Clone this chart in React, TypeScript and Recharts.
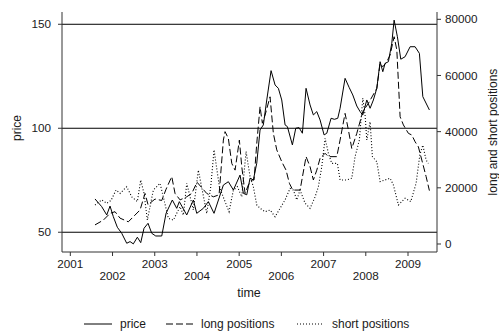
import React from 'react';
import { LineChart, Line, XAxis, YAxis, ReferenceLine } from 'recharts';

const FONT = '"Liberation Sans", Arial, Helvetica, sans-serif';

// x-axis tick labels (years)
const yearTicks = [2001, 2002, 2003, 2004, 2005, 2006, 2007, 2008, 2009];
const priceTicks = [50, 100, 150];
const positionTicks = [0, 20000, 40000, 60000, 80000];

// price series (decimal year, price)
const priceTime = [
  2001.585, 2001.744, 2001.863, 2001.941, 2002.019, 2002.114, 2002.218, 2002.336, 2002.415, 2002.493,
  2002.588, 2002.668, 2002.746, 2002.841, 2002.929, 2003.024, 2003.166, 2003.268, 2003.417, 2003.521,
  2003.583, 2003.758, 2003.915, 2003.995, 2004.152, 2004.270, 2004.405, 2004.626, 2004.744, 2004.863,
  2005.021, 2005.100, 2005.180, 2005.258, 2005.336, 2005.417, 2005.495, 2005.573, 2005.654, 2005.756,
  2005.851, 2005.929, 2006.009, 2006.088, 2006.142, 2006.261, 2006.341, 2006.419, 2006.498, 2006.585,
  2006.680, 2006.758, 2006.839, 2006.917, 2007.012, 2007.076, 2007.178, 2007.256, 2007.336, 2007.391,
  2007.509, 2007.604, 2007.692, 2007.787, 2007.865, 2007.929, 2008.024, 2008.102, 2008.180, 2008.261,
  2008.339, 2008.403, 2008.457, 2008.536, 2008.616, 2008.671, 2008.749, 2008.829, 2008.931, 2009.050,
  2009.168, 2009.270, 2009.351, 2009.507,
];
const priceValues = [
  66, 62.3, 58.3, 62.6, 57.5, 52.4, 49.5, 44.7, 45.5, 44.4,
  47.6, 45, 51.9, 54.3, 49.5, 48.2, 48.2, 59.1, 65.5, 61.5,
  64.7, 58.3, 65.5, 59.1, 61.5, 64.7, 59.1, 72.7, 74.3, 70.3,
  77.5, 68.7, 68, 76, 75.1, 83.2, 99.2, 101.6, 113.6, 127.7,
  120.8, 119.2, 113.6, 101.6, 100.8, 92, 100, 100.3, 97.6, 119.2,
  111.2, 106.4, 108, 104, 96.8, 97.6, 104.8, 104.3, 104.8, 109.6,
  124, 119.7, 116, 110.7, 108, 106.4, 113.6, 109.6, 113.6, 119.2,
  132, 127.2, 131.2, 132, 140.9, 152, 144, 133.2, 134.4, 139.2,
  139.2, 136, 115.2, 108.8,
];

// long positions (decimal year, contracts)
const longTime = [
  2001.585, 2001.782, 2001.941, 2002.059, 2002.178, 2002.374, 2002.493, 2002.652, 2002.770, 2002.841,
  2003.007, 2003.166, 2003.268, 2003.403, 2003.481, 2003.600, 2003.758, 2003.877, 2004.002, 2004.232,
  2004.389, 2004.524, 2004.626, 2004.666, 2004.744, 2004.825, 2004.903, 2005.005, 2005.062, 2005.140,
  2005.218, 2005.299, 2005.353, 2005.417, 2005.495, 2005.550, 2005.614, 2005.732, 2005.810, 2005.891,
  2006.009, 2006.111, 2006.190, 2006.270, 2006.443, 2006.585, 2006.680, 2006.758, 2006.839, 2006.917,
  2007.036, 2007.114, 2007.313, 2007.391, 2007.509, 2007.588, 2007.668, 2007.787, 2007.929, 2008.062,
  2008.261, 2008.339, 2008.403, 2008.498, 2008.576, 2008.671, 2008.735, 2008.813, 2008.891, 2009.009,
  2009.090, 2009.168, 2009.246, 2009.327, 2009.429, 2009.507,
];
const longValues = [
  6800, 8500, 10900, 11500, 9200, 7900, 9700, 12100, 18000, 14000,
  16000, 15500, 19500, 24000, 18000, 15700, 16800, 18000, 22000, 18000,
  16800, 17500, 37000, 40000, 37600, 28700, 26300, 37000, 27500, 18000,
  21000, 22800, 22800, 35800, 48900, 43000, 45900, 52400, 39400, 33500,
  29300, 26300, 21600, 19200, 19200, 31100, 27500, 22800, 26300, 30500,
  32300, 31100, 31100, 37000, 46500, 40600, 34000, 39400, 47100, 50100,
  55400, 64300, 63100, 64900, 67300, 73800, 69100, 45300, 42400, 39400,
  38800, 36400, 34600, 29900, 24000, 19000,
];

// short positions (decimal year, contracts)
const shortTime = [
  2001.585, 2001.744, 2001.863, 2001.964, 2002.083, 2002.178, 2002.336, 2002.455, 2002.588, 2002.668,
  2002.746, 2002.825, 2002.967, 2003.126, 2003.220, 2003.322, 2003.441, 2003.600, 2003.678, 2003.758,
  2003.915, 2004.033, 2004.232, 2004.327, 2004.405, 2004.531, 2004.642, 2004.761, 2004.863, 2004.957,
  2005.062, 2005.164, 2005.258, 2005.336, 2005.417, 2005.495, 2005.614, 2005.732, 2005.851, 2005.969,
  2006.088, 2006.206, 2006.284, 2006.365, 2006.443, 2006.562, 2006.680, 2006.799, 2006.877, 2006.957,
  2007.036, 2007.114, 2007.194, 2007.327, 2007.391, 2007.550, 2007.668, 2007.746, 2007.848, 2007.929,
  2007.983, 2008.024, 2008.102, 2008.156, 2008.261, 2008.339, 2008.457, 2008.576, 2008.654, 2008.773,
  2008.931, 2009.066, 2009.192, 2009.280, 2009.351, 2009.429, 2009.483,
];
const shortValues = [
  13900, 15700, 14500, 15500, 19200, 18000, 20400, 16800, 15100, 22800,
  18000, 8500, 19200, 21600, 15700, 9150, 8500, 13300, 10300, 21600,
  12100, 26300, 10900, 20400, 33500, 20400, 16000, 11500, 19200, 20400,
  16800, 32900, 24000, 20400, 13900, 12700, 11500, 12100, 9700, 12700,
  15700, 19800, 19200, 15700, 19200, 14500, 12700, 16800, 20400, 27500,
  37600, 32300, 28700, 28700, 22800, 22800, 23400, 31100, 37000, 51900,
  45900, 37000, 43500, 31100, 29300, 22200, 22800, 23400, 21000, 13900,
  16300, 15100, 21600, 31700, 35200, 29900, 28700,
];

const priceData = priceTime.map((t, i) => ({ t, v: priceValues[i] }));
const longData = longTime.map((t, i) => ({ t, v: longValues[i] }));
const shortData = shortTime.map((t, i) => ({ t, v: shortValues[i] }));

const TEXT = '#1a1a1a';
const AXIS = '#333';

const YearTick = (props: any) => {
  const { x, y, payload } = props;
  const odd = payload.value % 2 === 1;
  return (
    <text x={x} y={y + (odd ? 12 : 24)} textAnchor="middle" fill={TEXT} fontSize={11.7} fontFamily={FONT}>
      {payload.value}
    </text>
  );
};

export default function App() {
  return (
    <div style={{ position: 'absolute', left: 0, top: 0, width: 499, height: 331, background: '#fff' }}>
      <LineChart width={499} height={331} margin={{ top: 12, right: 0, bottom: 0, left: 0 }}>
        <XAxis
          dataKey="t"
          type="number"
          domain={[2000.803, 2009.687]}
          allowDataOverflow
          ticks={yearTicks}
          tick={<YearTick />}
          tickSize={4}
          tickMargin={0}
          height={79}
          stroke={AXIS}
          tickLine={{ stroke: AXIS }}
        />
        <YAxis
          yAxisId="left"
          orientation="left"
          type="number"
          domain={[40.5, 155.9]}
          allowDataOverflow
          ticks={priceTicks}
          width={62}
          tickSize={4}
          tickMargin={7}
          stroke={AXIS}
          tick={{ fill: TEXT, fontSize: 11.7, fontFamily: FONT }}
        />
        <YAxis
          yAxisId="right"
          orientation="right"
          type="number"
          domain={[-2850, 82600]}
          allowDataOverflow
          ticks={positionTicks}
          width={62}
          tickSize={4}
          tickMargin={4}
          stroke={AXIS}
          tick={{ fill: TEXT, fontSize: 11.7, fontFamily: FONT }}
        />
        {priceTicks.map((p) => (
          <ReferenceLine key={p} yAxisId="left" y={p} stroke="#000" strokeWidth={1} />
        ))}
        <Line yAxisId="left" data={priceData} dataKey="v" type="linear" stroke="#000" strokeWidth={1} dot={false} isAnimationActive={false} />
        <Line yAxisId="right" data={longData} dataKey="v" type="linear" stroke="#000" strokeWidth={1} strokeDasharray="7 3" dot={false} isAnimationActive={false} />
        <Line yAxisId="right" data={shortData} dataKey="v" type="linear" stroke="#000" strokeWidth={1.1} strokeDasharray="1 2" dot={false} isAnimationActive={false} />
      </LineChart>
      <svg width={499} height={331} style={{ position: 'absolute', left: 0, top: 0, pointerEvents: 'none' }}>
        <text transform="translate(17,128) rotate(-90)" textAnchor="middle" dominantBaseline="central" fill={TEXT} fontSize={12} fontFamily={FONT}>price</text>
        <text transform="translate(493,132) rotate(-90)" textAnchor="middle" dominantBaseline="central" fill={TEXT} fontSize={12} fontFamily={FONT}>long and short positions</text>
        <text x={249} y={297} textAnchor="middle" fill={TEXT} fontSize={12.5} fontFamily={FONT}>time</text>
        <line x1={84} x2={112} y1={324} y2={324} stroke="#000" strokeWidth={1} />
        <text x={120} y={328} fill={TEXT} fontSize={12} fontFamily={FONT}>price</text>
        <line x1={166} x2={193} y1={324} y2={324} stroke="#000" strokeWidth={1} strokeDasharray="7 3" />
        <text x={201} y={328} fill={TEXT} fontSize={12} fontFamily={FONT}>long positions</text>
        <line x1={297} x2={323} y1={324} y2={324} stroke="#000" strokeWidth={1.1} strokeDasharray="1 2" />
        <text x={332} y={328} fill={TEXT} fontSize={12} fontFamily={FONT}>short positions</text>
      </svg>
    </div>
  );
}
